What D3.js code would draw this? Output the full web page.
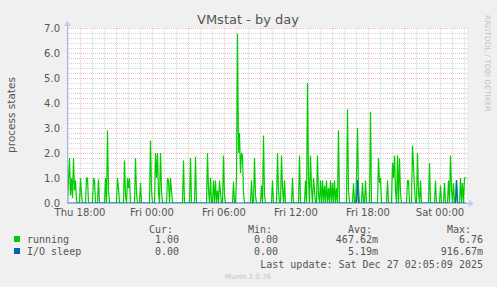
<!DOCTYPE html>
<html>
<head>
<meta charset="utf-8">
<script src="https://cdn.jsdelivr.net/npm/d3@7"></script>
<style>
  body { margin: 0; background: #f0f0f0; }
  svg { display: block; }
  text { fill: #555; font-family: "DejaVu Sans", sans-serif; }
  .mono { font-family: "DejaVu Sans Mono", monospace; font-size: 10px; }
</style>
</head>
<body>
<div id="canvas"></div>
<script>
// window: 400 samples of 5 minutes, starting Thu Dec 25 2025 16:55
const start = Date.UTC(2025, 11, 25, 16, 55);
const step = 5 * 60 * 1000;
const nSamples = 400;

// [sample index, value] for non-zero samples
const running = [
  [1,0.9],[2,1.8],[3,0.3],[4,1.0],[5,0.2],[6,1.8],[7,0.5],[8,0.9],[9,0.1],[13,1.0],[14,0.3],
  [19,1.0],[20,1.0],[26,1.0],[27,0.9],[31,0.95],[38,1.0],[40,2.9],[41,0.5],[50,1.0],[51,0.6],
  [57,1.7],[58,0.3],[60,1.0],[61,0.6],[62,1.0],[68,1.8],[69,0.4],[73,0.8],[83,2.5],[84,0.5],
  [88,2.0],[89,1.0],[90,2.0],[91,0.4],[93,2.0],[94,0.5],[100,1.0],[101,0.9],[103,1.0],[104,0.5],
  [116,1.7],[123,1.8],[128,1.85],[140,2.0],[141,0.5],[143,1.0],[146,0.9],[148,0.9],[150,0.5],
  [152,0.9],[153,0.4],[156,1.9],[157,0.3],[166,0.85],[169,1.0],[170,6.76],[171,2.0],[172,2.8],
  [173,1.2],[174,2.0],[175,1.9],[176,0.4],[184,0.9],[187,1.8],[188,0.3],[194,0.7],[196,2.7],
  [197,0.3],[205,0.9],[210,2.0],[211,0.5],[214,1.9],[215,0.6],[217,0.9],[225,1.0],[232,1.9],
  [238,0.9],[240,4.8],[241,1.0],[243,1.9],[244,0.6],[246,1.0],[247,0.5],[250,1.9],[251,0.3],
  [253,0.9],[255,0.9],[257,0.7],[259,0.9],[261,0.6],[263,0.9],[265,0.8],[267,0.9],[269,0.6],
  [271,2.9],[280,3.75],[281,0.5],[286,0.8],[289,1.0],[290,3.0],[291,0.6],[295,0.8],[298,0.9],
  [303,3.65],[311,1.8],[312,0.8],[313,1.0],[320,0.9],[325,1.6],[326,1.0],[327,1.9],[328,0.5],
  [330,1.9],[332,1.8],[333,0.4],[340,0.9],[341,0.9],[345,2.3],[346,1.5],[347,0.6],[350,2.0],
  [351,0.4],[353,0.9],[362,1.6],[368,0.9],[373,0.7],[377,0.8],[381,0.9],[383,1.9],[384,0.6],
  [386,0.8],[389,0.9],[393,1.0],[395,0.8],[397,1.0],[398,1.0],[399,1.0]
];
const ioSleep = [[290,0.92],[389,0.92]];

const yTicks = [0, 1, 2, 3, 4, 5, 6, 7];

const legendNames = ["running", "I/O sleep"];
const legendColors = ["#00cc00", "#0066b3"];
const cur = ["1.00", "0.00"];
const min = ["0.00", "0.00"];
const avg = ["467.62m", "5.19m"];
const max = ["6.76", "916.67m"];

function expand(sparse) {
  const m = new Map(sparse);
  return d3.range(nSamples).map(i => ({ t: new Date(start + i * step), v: m.get(i) || 0 }));
}

const width = 497, height = 287;
const margin = { top: 28, left: 67, right: 30, bottom: 84 };
const iwidth = 400, iheight = 175;

const svg = d3.select("#canvas").append("svg").attr("width", width).attr("height", height);
svg.append("rect").attr("width", width).attr("height", height).attr("fill", "#f0f0f0");

const g = svg.append("g").attr("transform", `translate(${margin.left},${margin.top})`);
g.append("rect").attr("width", iwidth).attr("height", iheight).attr("fill", "#fff");

const x = d3.scaleUtc().domain([new Date(start), new Date(start + nSamples * step)]).range([0, iwidth]);
const y = d3.scaleLinear().domain([0, 7]).range([iheight, 0]);

// grid
const hours = d3.utcHour.every(1).range(x.domain()[0], x.domain()[1]);
g.selectAll(".vminor").data(hours.filter(d => d.getUTCHours() % 3 != 0)).enter().append("line")
  .attr("x1", d => Math.round(x(d)) + 0.5).attr("x2", d => Math.round(x(d)) + 0.5)
  .attr("y1", 0).attr("y2", iheight)
  .attr("stroke", "#d4d4d4").attr("stroke-dasharray", "1,1");
g.selectAll(".hminor").data(d3.range(0, 7.01, 0.2).filter(v => Math.abs(v - Math.round(v)) > 0.01)).enter().append("line")
  .attr("x1", 0).attr("x2", iwidth + 1)
  .attr("y1", d => Math.round(y(d)) + 0.5).attr("y2", d => Math.round(y(d)) + 0.5)
  .attr("stroke", "#d4d4d4").attr("stroke-dasharray", "1,1");
g.selectAll(".vmajor").data(hours.filter(d => d.getUTCHours() % 3 == 0)).enter().append("line")
  .attr("x1", d => Math.round(x(d)) + 0.5).attr("x2", d => Math.round(x(d)) + 0.5)
  .attr("y1", 0).attr("y2", iheight)
  .attr("stroke", "#f2bcbc").attr("stroke-dasharray", "1,1");
g.selectAll(".hmajor").data(yTicks).enter().append("line")
  .attr("x1", 0).attr("x2", iwidth + 1)
  .attr("y1", d => Math.round(y(d)) + 0.5).attr("y2", d => Math.round(y(d)) + 0.5)
  .attr("stroke", "#f2bcbc").attr("stroke-dasharray", "1,1");

// series
const line = d3.line().x(d => x(d.t) + 0.5).y(d => y(d.v));
g.append("path").datum(expand(running)).attr("d", line)
  .attr("fill", "none").attr("stroke", legendColors[0]).attr("stroke-width", 1.2);
g.append("path").datum(expand(ioSleep)).attr("d", line)
  .attr("fill", "none").attr("stroke", legendColors[1]).attr("stroke-width", 1.2);

// axes lines + arrows
const axisColor = "#a8b2e6";
g.append("line").attr("x1", 0).attr("x2", iwidth + 3).attr("y1", iheight + 0.5).attr("y2", iheight + 0.5).attr("stroke", axisColor);
g.append("line").attr("x1", 0.5).attr("x2", 0.5).attr("y1", -3).attr("y2", iheight + 1).attr("stroke", axisColor);
g.append("path").attr("d", `M${iwidth + 2},${iheight - 3} L${iwidth + 7},${iheight + 0.5} L${iwidth + 2},${iheight + 4}Z`).attr("fill", "#c4caf0");
g.append("path").attr("d", `M-3,-2 L0.5,-7 L4,-2Z`).attr("fill", "#c4caf0");

// tick labels
g.selectAll(".ylab").data(yTicks).enter().append("text")
  .attr("x", -7).attr("y", d => y(d) + 4)
  .attr("text-anchor", "end").style("font-size", "10px")
  .text(d => d.toFixed(1));
const labelTimes = hours.filter(d => d.getUTCHours() % 6 == 0);
g.selectAll(".xlab").data(labelTimes).enter().append("text")
  .attr("x", d => x(d)).attr("y", iheight + 13)
  .attr("text-anchor", "middle").style("font-size", "10px")
  .text(d => d3.utcFormat("%a %H:%M")(d));

// title and labels
svg.append("text").attr("x", 248).attr("y", 24).attr("text-anchor", "middle")
  .style("font-size", "13px").text("VMstat - by day");
svg.append("text").attr("transform", "translate(15,115) rotate(-90)").attr("text-anchor", "middle")
  .style("font-size", "10.5px").text("process states");
svg.append("text").attr("transform", "translate(485,15) rotate(90)")
  .style("font-size", "7.5px").style("fill", "#c4c4c4").text("RRDTOOL / TOBI OETIKER");

// legend
const lg = svg.append("g");
lg.append("text").attr("class", "mono").attr("x", 173).attr("y", 233).attr("text-anchor", "end").text("Cur:");
lg.append("text").attr("class", "mono").attr("x", 272).attr("y", 233).attr("text-anchor", "end").text("Min:");
lg.append("text").attr("class", "mono").attr("x", 372).attr("y", 233).attr("text-anchor", "end").text("Avg:");
lg.append("text").attr("class", "mono").attr("x", 471).attr("y", 233).attr("text-anchor", "end").text("Max:");
legendNames.forEach((name, i) => {
  const yy = 243 + i * 12;
  lg.append("rect").attr("x", 14).attr("y", yy - 7).attr("width", 6).attr("height", 6).attr("fill", legendColors[i]);
  lg.append("text").attr("class", "mono").attr("x", 27).attr("y", yy).text(name);
  lg.append("text").attr("class", "mono").attr("x", 179).attr("y", yy).attr("text-anchor", "end").text(cur[i]);
  lg.append("text").attr("class", "mono").attr("x", 278).attr("y", yy).attr("text-anchor", "end").text(min[i]);
  lg.append("text").attr("class", "mono").attr("x", 378).attr("y", yy).attr("text-anchor", "end").text(avg[i]);
  lg.append("text").attr("class", "mono").attr("x", 483).attr("y", yy).attr("text-anchor", "end").text(max[i]);
});
lg.append("text").attr("class", "mono").attr("x", 483).attr("y", 268).attr("text-anchor", "end")
  .text("Last update: Sat Dec 27 02:05:09 2025");
svg.append("text").attr("x", 248).attr("y", 279).attr("text-anchor", "middle")
  .style("font-size", "7px").style("fill", "#c4c4c4").text("Munin 2.0.76");
</script>
</body>
</html>
